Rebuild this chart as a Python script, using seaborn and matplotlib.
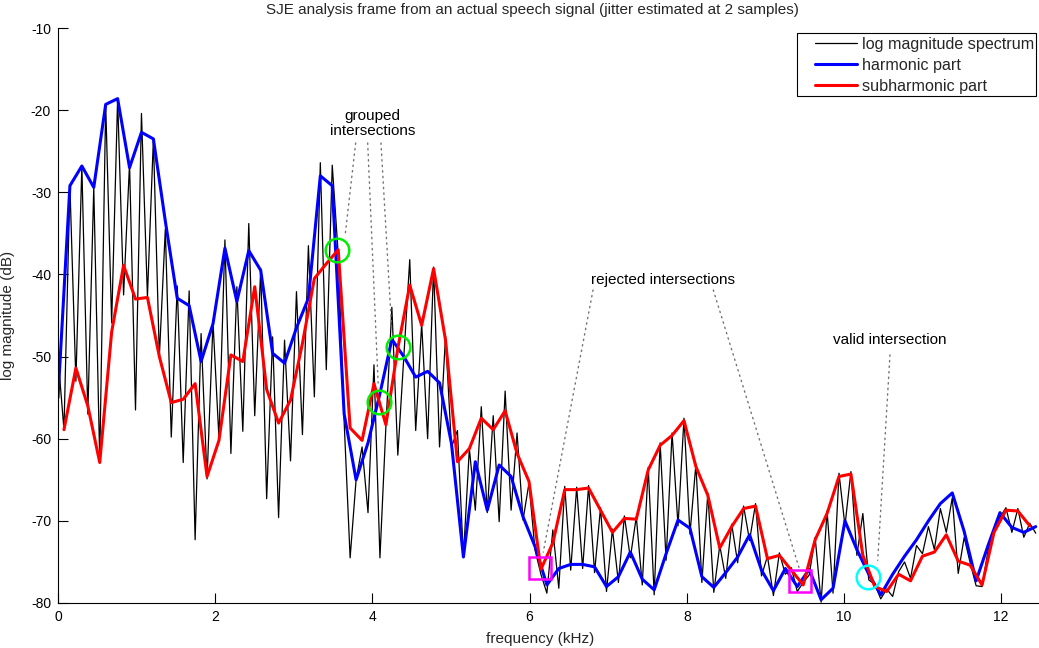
import numpy as np
import matplotlib
matplotlib.use("Agg")
import matplotlib.pyplot as plt
from matplotlib.patches import Rectangle
import seaborn as sns

# spacing of the harmonic grid (kHz)
F0 = 0.1517

# harmonic part: values at k*F0 (dB)
harmonic_db = [
    -55.0, -29.2, -26.8, -29.4, -19.3, -18.6, -27.0, -22.7, -23.5, -33.5,
    -42.9, -43.8, -50.6, -46.0, -36.8, -43.3, -37.1, -39.5, -49.6, -50.8,
    -46.5, -42.9, -28.0, -29.2, -57.0, -65.0, -60.5, -54.5, -47.9, -50.0,
    -52.5, -51.8, -53.2, -60.6, -74.4, -62.8, -68.7, -63.2, -64.6, -69.5,
    -73.1, -77.8, -75.8, -75.3, -75.3, -75.6, -78.0, -76.8, -73.8, -77.1,
    -78.4, -74.0, -69.9, -70.9, -76.8, -78.1, -76.3, -74.4, -71.7, -76.0,
    -78.5, -75.8, -78.0, -75.9, -79.6, -78.2, -70.0, -73.5, -76.5, -79.0,
    -76.5, -74.3, -72.3, -70.0, -67.9, -66.6, -71.3, -77.3, -73.0, -69.0,
    -70.8, -71.4, -70.7,
]

# subharmonic part: values at (k+0.5)*F0 (dB)
subharmonic_db = [
    -58.9, -51.4, -56.0, -62.9, -47.0, -38.9, -43.0, -42.8, -50.0, -55.6,
    -55.2, -53.3, -64.6, -60.2, -49.8, -50.6, -41.5, -54.0, -58.1, -55.3,
    -48.4, -40.5, -38.7, -37.0, -58.7, -60.2, -53.3, -58.3, -49.0, -41.3,
    -46.2, -39.3, -48.0, -62.8, -61.2, -57.5, -58.9, -56.6, -61.8, -65.2,
    -75.9, -72.7, -66.2, -66.2, -66.0, -68.7, -71.4, -69.7, -69.8, -63.8,
    -60.8, -59.6, -57.8, -63.4, -66.9, -73.3, -70.7, -68.5, -68.2, -74.6,
    -74.2, -76.0, -77.8, -72.3, -69.1, -64.6, -64.3, -74.2, -78.0, -78.6,
    -76.5, -77.3, -74.3, -73.8, -71.7, -74.9, -75.4, -77.8, -71.4, -68.7,
    -68.8, -70.6,
]

# log magnitude spectrum, bins on the harmonic grid
spectrum_on_harmonics = [
    -50.0, -29.2, -26.8, -29.4, -19.3, -18.6, -26.5, -20.4, -23.5, -34.5,
    -41.4, -42.0, -47.2, -45.8, -35.8, -41.5, -33.8, -39.3, -47.6, -48.0,
    -42.1, -36.5, -26.4, -26.7, -58.0, -65.0, -69.0, -74.5, -44.0, -50.0,
    -59.0, -60.0, -61.0, -61.0, -74.4, -68.7, -69.0, -70.1, -68.7, -69.9,
    -73.5, -78.8, -78.2, -76.0, -75.8, -76.3, -78.6, -77.5, -74.5, -77.8,
    -79.0, -74.8, -70.6, -71.6, -77.5, -78.7, -77.0, -75.1, -72.4, -76.7,
    -79.1, -76.5, -78.6, -76.6, -79.9, -78.8, -70.6, -74.2, -77.2, -79.5,
    -79.2, -75.0, -73.0, -70.7, -68.5, -67.2, -72.0, -77.9, -73.6, -69.6,
    -71.4, -72.0, -71.5,
]

# log magnitude spectrum, bins halfway between harmonics
spectrum_between = [
    -58.9, -53.0, -57.0, -62.8, -45.9, -42.5, -56.5, -42.7, -50.0, -59.8,
    -62.9, -72.3, -64.9, -60.0, -61.8, -59.1, -57.2, -67.3, -69.6, -62.7,
    -59.5, -54.9, -51.6, -37.5, -74.5, -61.0, -51.0, -58.5, -62.0, -38.2,
    -46.0, -39.1, -47.5, -59.0, -61.2, -56.1, -57.2, -54.2, -59.3, -65.4,
    -76.5, -71.1, -65.8, -65.9, -65.7, -68.4, -71.0, -69.4, -69.5, -63.5,
    -60.5, -59.3, -57.5, -63.1, -66.6, -73.0, -70.4, -68.2, -67.9, -74.3,
    -73.9, -75.7, -77.5, -72.0, -68.8, -64.2, -64.0, -69.1, -77.7, -78.3,
    -76.2, -77.0, -74.0, -73.5, -71.4, -76.4, -75.1, -78.0, -71.1, -68.4,
    -68.5, -70.3,
]

# marked intersections (kHz, dB)
grouped_f = [3.55, 4.084, 4.326]
grouped_db = [-37.0, -55.5, -48.8]
rejected_f = [6.132, 9.434]
rejected_db = [-75.7, -77.3]
valid_f = [10.305]
valid_db = [-76.8]

y_ticks = [-80, -70, -60, -50, -40, -30, -20, -10]
x_ticks = [0, 2, 4, 6, 8, 10, 12]

harm_f = np.arange(len(harmonic_db)) * F0
sub_f = (np.arange(len(subharmonic_db)) + 0.5) * F0
n_spec = len(spectrum_on_harmonics) + len(spectrum_between)
spec_f = np.arange(n_spec) * F0 / 2
spec_db = np.empty(n_spec)
spec_db[0::2] = spectrum_on_harmonics
spec_db[1::2] = spectrum_between

sns.set_theme(style="ticks")
plt.rcParams["font.family"] = ["Liberation Sans", "DejaVu Sans"]
plt.rcParams["axes.unicode_minus"] = False

W, H = 1039, 648
fig = plt.figure(figsize=(W / 100, H / 100), dpi=100)
ax = fig.add_axes([58 / W, 1 - 603 / H, (1040.5 - 58) / W, (603 - 28) / H])

sns.lineplot(x=spec_f, y=spec_db, ax=ax, color="black", linewidth=0.9,
             estimator=None, label="log magnitude spectrum")
sns.lineplot(x=harm_f, y=harmonic_db, ax=ax, color="#0000ff", linewidth=2.2,
             estimator=None, label="harmonic part")
sns.lineplot(x=sub_f, y=subharmonic_db, ax=ax, color="#ff0000", linewidth=2.2,
             estimator=None, label="subharmonic part")

ax.plot(grouped_f, grouped_db, "o", ms=17, mfc="none", mec="#00ee00", mew=1.8)
ax.plot(rejected_f, rejected_db, "s", ms=16, mfc="none", mec="#ff00ff", mew=1.8)
ax.plot(valid_f, valid_db, "o", ms=17, mfc="none", mec="#00ffff", mew=1.8)

dots = dict(arrowstyle="-", linestyle=(0, (1, 3)), color="0.45", lw=1.0,
            shrinkA=0, shrinkB=0)
for start, end in [((3.787, -24.0), (3.651, -35.4)),
                   ((3.940, -24.0), (4.075, -53.7)),
                   ((4.109, -24.0), (4.245, -46.6))]:
    ax.annotate("", xy=end, xytext=start, arrowprops=dots)
for start, end in [((6.807, -41.9), (6.174, -73.8)),
                   ((8.337, -41.9), (9.431, -75.8))]:
    ax.annotate("", xy=end, xytext=start, arrowprops=dots)
ax.annotate("", xy=(10.429, -74.8), xytext=(10.585, -49.8), arrowprops=dots)

txt = dict(ha="center", va="center", fontsize=11, color="black")
ax.text(4.0, -21.6, "grouped\nintersections", linespacing=1.05, **txt)
ax.text(7.697, -40.7, "rejected intersections", **txt)
ax.text(10.585, -48.0, "valid intersection", **txt)

ax.set_xlim(0, 12.5)
ax.set_ylim(-80, -10)
ax.set_xticks(x_ticks)
ax.set_yticks(y_ticks)
ax.tick_params(direction="in", length=7, width=0.8, labelsize=10,
               colors="black", pad=5)
for side in ("top", "right"):
    ax.spines[side].set_visible(False)
for side in ("left", "bottom"):
    ax.spines[side].set_color("black")
    ax.spines[side].set_linewidth(0.8)

ax.set_xlabel("frequency (kHz)", fontsize=11)
ax.set_ylabel("log magnitude (dB)", fontsize=11)
ax.xaxis.set_label_coords((540 - 58) / (1040.5 - 58), -(632 - 603) / 575)
ax.yaxis.set_label_coords(-(58 - 15) / (1040.5 - 58), 0.5)

fig.text(532 / W, 1 - 10 / H,
         "SJE analysis frame from an actual speech signal (jitter estimated at 2 samples)",
         ha="center", va="center", fontsize=11)

# legend entries without frame, boxed by a separate rectangle behind them
leg = ax.legend(loc="upper left", bbox_to_anchor=(815 / W, 1 - 37 / H),
                bbox_transform=fig.transFigure, borderaxespad=0,
                fontsize=11.6, handlelength=2.6, handletextpad=0.3,
                labelspacing=0.36, borderpad=0, frameon=False)
leg.set_zorder(6)
box = Rectangle((797 / W, 1 - 96 / H), (1036 - 797) / W, (96 - 33) / H,
                transform=fig.transFigure, facecolor="white",
                edgecolor="black", linewidth=0.8, zorder=5.5, clip_on=False)
ax.add_patch(box)

fig.savefig("out.png", dpi=100)
